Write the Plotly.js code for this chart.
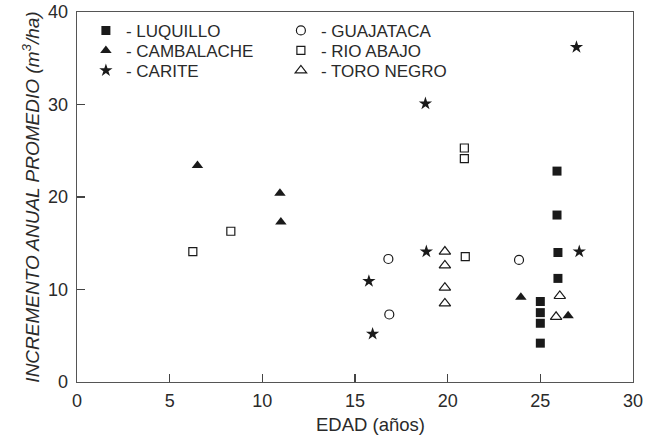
<!DOCTYPE html>
<html>
<head>
<meta charset="utf-8">
<script src="https://cdn.plot.ly/plotly-3.0.1.min.js"></script>
<style>html,body{margin:0;padding:0;background:#fff;}#chart{width:648px;height:441px;}</style>
</head>
<body>
<div id="chart"></div>
<script>
// Data (EDAD in años, incremento in m3/ha)
const luquilloX   = [25.0, 25.0, 25.0, 25.0, 25.9, 25.9, 25.95, 25.95];
const luquilloY   = [4.2, 6.35, 7.5, 8.7, 22.8, 18.05, 14.0, 11.2];
const guajatacaX  = [16.8, 16.85, 23.85];
const guajatacaY  = [13.3, 7.3, 13.2];
const cambalacheX = [6.5, 10.95, 11.0, 23.95, 26.5];
const cambalacheY = [23.4, 20.4, 17.3, 9.15, 7.15];
const rioAbajoX   = [6.25, 8.3, 20.9, 20.9, 20.95];
const rioAbajoY   = [14.1, 16.3, 25.3, 24.15, 13.55];
const cariteX     = [15.75, 15.95, 18.8, 18.85, 26.95, 27.1];
const cariteY     = [10.9, 5.2, 30.1, 14.1, 36.2, 14.1];
const toroNegroX  = [19.85, 19.85, 19.85, 19.85, 26.05, 25.85];
const toroNegroY  = [14.1, 12.6, 10.2, 8.5, 9.3, 7.05];

const xTicks = [0, 5, 10, 15, 20, 25, 30];
const yTicks = [0, 10, 20, 30, 40];

const ink = '#1a1a1a';
const FONT = 'Liberation Sans, Arial, sans-serif';

function tr(name, x, y, symbol, size, open, legendId) {
  return {
    type: 'scatter', mode: 'markers', name: name, x: x, y: y,
    legend: legendId,
    marker: {
      symbol: symbol, size: size,
      color: open ? 'rgba(255,255,255,1)' : ink,
      line: {color: ink, width: open ? 1.2 : 0}
    },
    hoverinfo: 'x+y+name'
  };
}

const data = [
  tr('- LUQUILLO',   luquilloX,   luquilloY,   'square',      9,  false, 'legend'),
  tr('- GUAJATACA',  guajatacaX,  guajatacaY,  'circle',      9,  true,  'legend'),
  tr('- CAMBALACHE', cambalacheX, cambalacheY, 'triangle-up', 10, false, 'legend2'),
  tr('- RIO ABAJO',  rioAbajoX,   rioAbajoY,   'square',      8,  true,  'legend2'),
  tr('- CARITE',     cariteX,     cariteY,     'star',        10, false, 'legend3'),
  tr('- TORO NEGRO', toroNegroX,  toroNegroY,  'triangle-up', 10, true,  'legend3')
];

const axisCommon = {
  showgrid: false, zeroline: false, showline: true, mirror: true,
  linecolor: '#555', linewidth: 1.4,
  ticks: 'inside', ticklen: 8, tickwidth: 1.2, tickcolor: '#444',
  tickfont: {family: FONT, size: 18, color: '#2a2a2a'}
};

function legendRow(yPaper) {
  return {
    orientation: 'h', x: 0.016, y: yPaper, xanchor: 'left', yanchor: 'middle',
    entrywidth: 150, entrywidthmode: 'pixels',
    font: {family: FONT, size: 17, color: '#2a2a2a'},
    bgcolor: 'rgba(0,0,0,0)', borderwidth: 0, itemsizing: 'trace'
  };
}

const layout = {
  width: 648, height: 441,
  margin: {l: 77, r: 15, t: 12, b: 59},
  paper_bgcolor: '#fff', plot_bgcolor: '#fff',
  font: {family: FONT, color: '#2a2a2a'},
  showlegend: true,
  legend: legendRow(0.949),
  legend2: legendRow(0.895),
  legend3: legendRow(0.841),
  xaxis: Object.assign({}, axisCommon, {
    range: [0, 30], tickvals: xTicks, ticktext: xTicks.map(String),
    ticklabelstandoff: 2
  }),
  yaxis: Object.assign({}, axisCommon, {
    range: [0, 40], tickvals: yTicks, ticktext: yTicks.map(String),
    ticklabelstandoff: 4,
    title: {text: '<i>INCREMENTO ANUAL PROMEDIO (m<sup>3</sup>/ha)</i>',
            font: {family: FONT, size: 19, color: '#2a2a2a'}, standoff: 3}
  }),
  annotations: [{
    text: 'EDAD (años)', xref: 'paper', yref: 'paper',
    x: 0.527, y: -0.082, xanchor: 'center', yanchor: 'top', showarrow: false,
    font: {family: FONT, size: 18.5, color: '#2a2a2a'}
  }]
};

Plotly.newPlot('chart', data, layout, {displayModeBar: false, staticPlot: true});
</script>
</body>
</html>
